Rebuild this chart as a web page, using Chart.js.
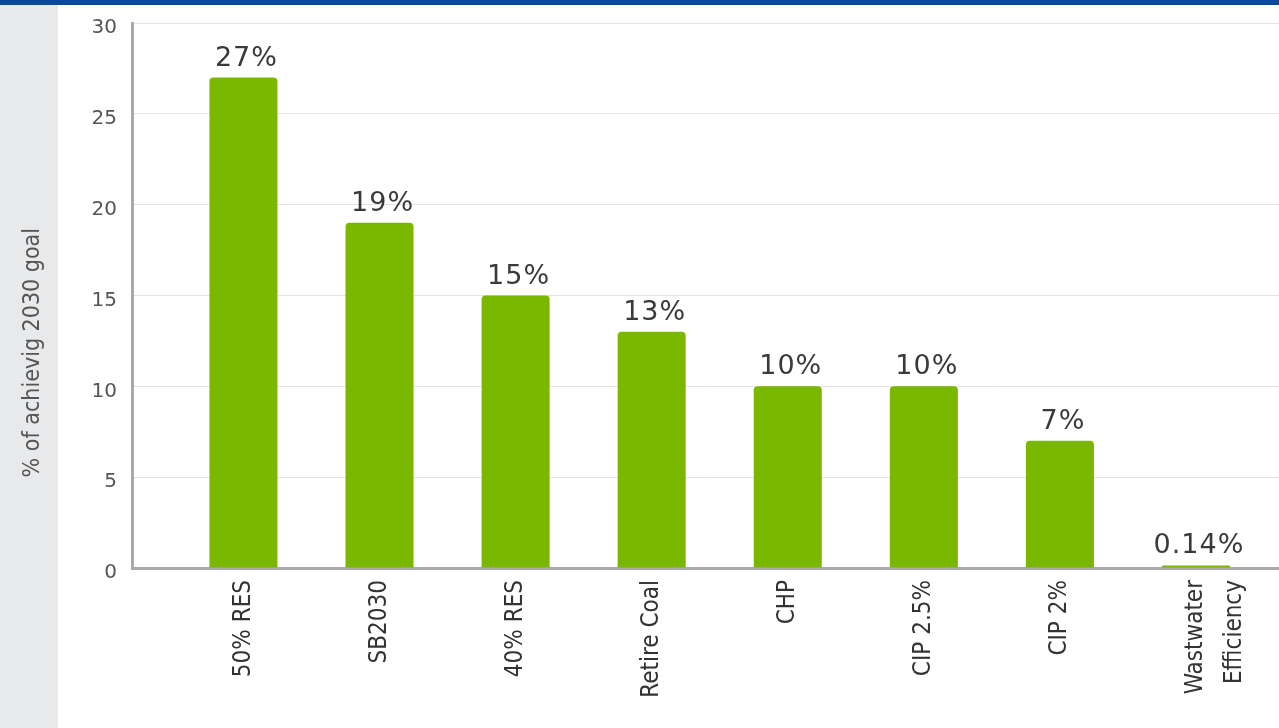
<!DOCTYPE html>
<html>
<head>
<meta charset="utf-8">
<script src="https://cdn.jsdelivr.net/npm/chart.js@4"></script>
<style>
  html, body { margin: 0; padding: 0; background: #ffffff; }
  #wrap { position: relative; width: 1279px; height: 728px; }
</style>
</head>
<body>
<div id="wrap"><canvas id="c"></canvas></div>
<script>
// ---- data ----
const categories = ["50% RES", "SB2030", "40% RES", "Retire Coal", "CHP", "CIP 2.5%", "CIP 2%", ["Wastwater", "Efficiency"]];
const values = [27, 19, 15, 13, 10, 10, 7, 0.14];
const yTicks = [0, 5, 10, 15, 20, 25, 30];
const yTitle = "% of achievig 2030 goal";

const NARROW = "'Liberation Sans Narrow', 'DejaVu Sans Condensed', 'Arial Narrow', sans-serif";
const WIDE = "'DejaVu Sans', Verdana, sans-serif";

const backdrop = {
  id: 'backdrop',
  beforeDraw(chart) {
    const { ctx, width, height } = chart;
    ctx.save();
    ctx.fillStyle = '#ffffff';
    ctx.fillRect(0, 0, width, height);
    ctx.fillStyle = '#e8e9eb';
    ctx.fillRect(0, 0, 58, height);
    ctx.fillStyle = '#0b4a96';
    ctx.fillRect(0, 0, width, 5);
    ctx.restore();
  },
  afterDraw(chart) {
    const { ctx, chartArea } = chart;
    ctx.save();
    ctx.translate(33, chartArea.top + (chartArea.bottom - chartArea.top) * 0.605);
    ctx.rotate(-Math.PI / 2);
    ctx.font = "23px " + NARROW;
    ctx.fillStyle = '#555555';
    ctx.textAlign = 'center';
    ctx.textBaseline = 'middle';
    ctx.fillText(yTitle, 0, 0);
    ctx.restore();
  }
};

const valueLabels = {
  id: 'valueLabels',
  afterDatasetsDraw(chart) {
    const { ctx } = chart;
    const meta = chart.getDatasetMeta(0);
    ctx.save();
    ctx.font = "27px " + WIDE;
    try { ctx.letterSpacing = '1px'; } catch (e) {}
    ctx.fillStyle = '#3a3a3a';
    ctx.textAlign = 'center';
    ctx.textBaseline = 'alphabetic';
    meta.data.forEach((bar, i) => {
      ctx.fillText(values[i] + '%', bar.x + 3, bar.y - 12);
    });
    ctx.restore();
  }
};

new Chart(document.getElementById('c'), {
  type: 'bar',
  data: {
    datasets: [{
      data: values.map((v, i) => ({ x: i, y: v })),
      backgroundColor: '#7ab800',
      borderRadius: 4,
      borderSkipped: 'start',
      categoryPercentage: 0.5,
      barPercentage: 1
    }]
  },
  options: {
    responsive: true,
    maintainAspectRatio: false,
    animation: false,
    devicePixelRatio: 1,
    layout: { padding: { top: 23, right: 0, left: 0, bottom: 0 } },
    plugins: { legend: { display: false }, tooltip: { enabled: false } },
    scales: {
      x: {
        type: 'linear',
        offset: false,
        min: -0.819,
        max: 7.61,
        grid: { display: false, drawTicks: false },
        border: { display: true, color: '#a9a9a9', width: 3 },
        afterFit(scale) {
          scale.height = 160;
          scale.paddingLeft = 0;
          scale.paddingRight = 0;
        },
        ticks: {
          stepSize: 1,
          includeBounds: false,
          autoSkip: false,
          minRotation: 90,
          maxRotation: 90,
          padding: 12,
          color: '#333333',
          font: { family: NARROW, size: 24, lineHeight: 1.6 },
          callback: (v) => (Number.isInteger(v) && categories[v] !== undefined) ? categories[v] : ''
        }
      },
      y: {
        min: yTicks[0],
        max: yTicks[yTicks.length - 1],
        grid: { color: '#e3e3e3', lineWidth: 1, drawTicks: false },
        border: { display: true, color: '#a9a9a9', width: 3 },
        afterFit(scale) {
          scale.width = 132;
          scale.paddingTop = 0;
          scale.paddingBottom = 0;
        },
        afterBuildTicks(scale) { scale.ticks = yTicks.map(v => ({ value: v })); },
        ticks: {
          padding: 15,
          labelOffset: 5,
          color: '#555555',
          font: { family: WIDE, size: 20 }
        }
      }
    }
  },
  plugins: [backdrop, valueLabels]
});
</script>
</body>
</html>
